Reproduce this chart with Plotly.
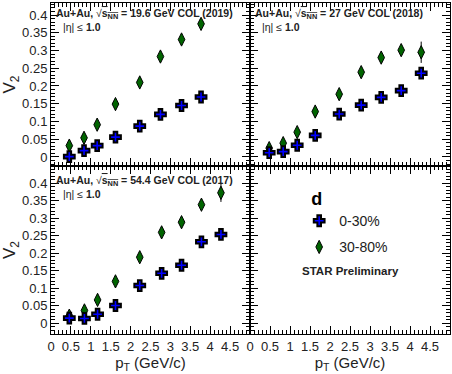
import plotly.graph_objects as go

# ---------------- data ----------------
pt_196 = [0.46, 0.83, 1.16, 1.62, 2.23, 2.75, 3.28, 3.77]
v2_196_c = [0.001, 0.018, 0.032, 0.056, 0.087, 0.120, 0.145, 0.169]
e2_196_c = [0.003, 0.002, 0.002, 0.002, 0.003, 0.003, 0.004, 0.005]
v2_196_p = [0.032, 0.054, 0.091, 0.149, 0.210, 0.283, 0.331, 0.375]
e2_196_p = [0.003, 0.003, 0.003, 0.004, 0.005, 0.006, 0.007, 0.009]

pt_27 = [0.48, 0.83, 1.18, 1.63, 2.23, 2.78, 3.28, 3.78, 4.28]
v2_27_c = [0.012, 0.015, 0.033, 0.061, 0.121, 0.146, 0.168, 0.187, 0.236]
e2_27_c = [0.002, 0.002, 0.002, 0.002, 0.003, 0.003, 0.004, 0.005, 0.008]
v2_27_p = [0.025, 0.039, 0.070, 0.128, 0.177, 0.239, 0.280, 0.301, 0.295]
e2_27_p = [0.003, 0.003, 0.003, 0.004, 0.005, 0.006, 0.008, 0.012, 0.030]

pt_544 = [0.46, 0.84, 1.17, 1.62, 2.23, 2.78, 3.28, 3.78, 4.27]
v2_544_c = [0.014, 0.013, 0.025, 0.050, 0.107, 0.142, 0.165, 0.232, 0.253]
e2_544_c = [0.002, 0.002, 0.002, 0.002, 0.003, 0.003, 0.004, 0.005, 0.007]
v2_544_p = [0.021, 0.036, 0.066, 0.119, 0.188, 0.259, 0.288, 0.338, 0.372]
e2_544_p = [0.003, 0.003, 0.003, 0.004, 0.005, 0.006, 0.008, 0.010, 0.026]

labels_energy = ["19.6", "27", "54.4"]
labels_year = ["2019", "2018", "2017"]
cent_labels = ["0-30%", "30-80%"]

# ---------------- styles ----------------
BLUE = "#0000ff"
GREEN = "#006400"
FONT = "Liberation Sans, Arial, sans-serif"
TXT = "#222222"

fig = go.Figure()

panels = [
    ("x", "y", pt_196, v2_196_c, e2_196_c, v2_196_p, e2_196_p),
    ("x2", "y2", pt_27, v2_27_c, e2_27_c, v2_27_p, e2_27_p),
    ("x3", "y3", pt_544, v2_544_c, e2_544_c, v2_544_p, e2_544_p),
]

for i, (xa, ya, pt, vc, ec, vp, ep) in enumerate(panels):
    fig.add_trace(go.Scatter(
        x=pt, y=vp, xaxis=xa, yaxis=ya, mode="markers",
        name=cent_labels[1], legendgroup="p", showlegend=(i == 0), legendrank=2,
        marker=dict(symbol="diamond-tall", size=9.5, color=GREEN,
                    line=dict(color="black", width=1)),
        error_y=dict(type="data", array=ep, color="black", thickness=1, width=0),
    ))
    fig.add_trace(go.Scatter(
        x=pt, y=vc, xaxis=xa, yaxis=ya, mode="markers",
        name=cent_labels[0], legendgroup="c", showlegend=(i == 0), legendrank=1,
        marker=dict(symbol="cross", size=9, color=BLUE,
                    line=dict(color="black", width=2)),
        error_y=dict(type="data", array=ec, color="black", thickness=1, width=0),
    ))

# empty 4th panel anchor
fig.add_trace(go.Scatter(x=[None], y=[None], xaxis="x4", yaxis="y4",
                         showlegend=False, mode="markers"))

L, R, T, B = 51, 2, 3, 40
W, H = 452, 374
pw = W - L - R
ph = H - T - B
xsplit = 199 / pw
ysplit = 168 / ph

def xaxis(domain, anchor, showlabels, tickvals, ticktext, title):
    return dict(
        domain=domain, anchor=anchor, range=[0, 5],
        showline=True, linecolor="black", linewidth=1, mirror="allticks",
        ticks="inside", ticklen=8, tickcolor="black", tickwidth=1,
        tickvals=tickvals, ticktext=ticktext, showticklabels=showlabels,
        minor=dict(ticks="inside", ticklen=4, dtick=0.1, tickcolor="black"),
        showgrid=False, zeroline=False,
        tickfont=dict(family=FONT, size=13, color=TXT),
        title=dict(text=title, font=dict(family=FONT, size=15, color=TXT), standoff=0),
    )

def yaxis(domain, anchor, rng, showlabels, title):
    return dict(
        domain=domain, anchor=anchor, range=rng,
        showline=True, linecolor="black", linewidth=1, mirror="allticks",
        ticks="inside", ticklen=8, tickcolor="black", tickwidth=1,
        dtick=0.05, tick0=0, showticklabels=showlabels,
        minor=dict(ticks="inside", ticklen=4, dtick=0.01, tickcolor="black"),
        showgrid=False, zeroline=False,
        tickfont=dict(family=FONT, size=13, color=TXT),
        title=dict(text=title, font=dict(family=FONT, size=17, color=TXT), standoff=2),
    )

xt_left = [0, 0.5, 1, 1.5, 2, 2.5, 3, 3.5, 4, 4.5]
xt_right = [0, 0.5, 1, 1.5, 2, 2.5, 3, 3.5, 4, 4.5, 5]
fmt = lambda v: ("%g" % v)
top_rng = [-0.0254, 0.4338]
bot_rng = [-0.0314, 0.4486]

fig.update_layout(
    width=W, height=H,
    margin=dict(l=L, r=R, t=T, b=B),
    paper_bgcolor="white", plot_bgcolor="white",
    showlegend=True,
    xaxis=xaxis([0, xsplit], "y", False, xt_left, [fmt(v) for v in xt_left], ""),
    yaxis=yaxis([ysplit, 1], "x", top_rng, True, "V<sub>2</sub>"),
    xaxis2=xaxis([xsplit, 1], "y2", False, xt_right, [fmt(v) for v in xt_right], ""),
    yaxis2=yaxis([ysplit, 1], "x2", top_rng, False, ""),
    xaxis3=xaxis([0, xsplit], "y3", True, xt_left, [fmt(v) for v in xt_left], "p<sub>T</sub> (GeV/c)"),
    yaxis3=yaxis([0, ysplit], "x3", bot_rng, True, "V<sub>2</sub>"),
    xaxis4=xaxis([xsplit, 1], "y4", True, xt_right, [fmt(v) for v in xt_right], "p<sub>T</sub> (GeV/c)"),
    yaxis4=yaxis([0, ysplit], "x4", bot_rng, False, ""),
    legend=dict(
        x=0.622, y=0.46, xanchor="left", yanchor="top",
        bgcolor="rgba(0,0,0,0)", borderwidth=0,
        font=dict(family=FONT, size=14, color=TXT),
        title=dict(text="\u00a0\u00a0<b>d</b>", font=dict(family=FONT, size=18, color="black"), side="top"),
        tracegroupgap=5,
    ),
)

anchors = [("x domain", "y domain", -11, -24),
           ("x2 domain", "y2 domain", -11, -24),
           ("x3 domain", "y3 domain", -15, -28)]
for (xr, yr, s1, s2), en, yr_ in zip(anchors, labels_energy, labels_year):
    fig.add_annotation(
        xref=xr, yref=yr, x=0.0, y=1.0, xanchor="left", yanchor="middle", xshift=3, yshift=s1,
        showarrow=False, align="left",
        text=("<b>Au+Au, </b>\u221a<b><span style='text-decoration:overline'>s<sub>NN</sub></span> = "
              + en + " GeV COL (" + yr_ + ")</b>"),
        font=dict(family=FONT, size=10.5, color=TXT),
    )
    fig.add_annotation(
        xref=xr, yref=yr, x=0.0, y=1.0, xanchor="left", yanchor="middle", xshift=10, yshift=s2,
        showarrow=False, align="left",
        text="|\u03b7| \u2264 <b>1.0</b>",
        font=dict(family=FONT, size=10.5, color=TXT),
    )

fig.add_annotation(
    xref="x4 domain", yref="y4 domain", x=0.5, y=0.375, xanchor="center", yanchor="middle",
    showarrow=False, text="<b>STAR Preliminary</b>",
    font=dict(family=FONT, size=11.5, color=TXT),
)

fig.write_html("out.html")
